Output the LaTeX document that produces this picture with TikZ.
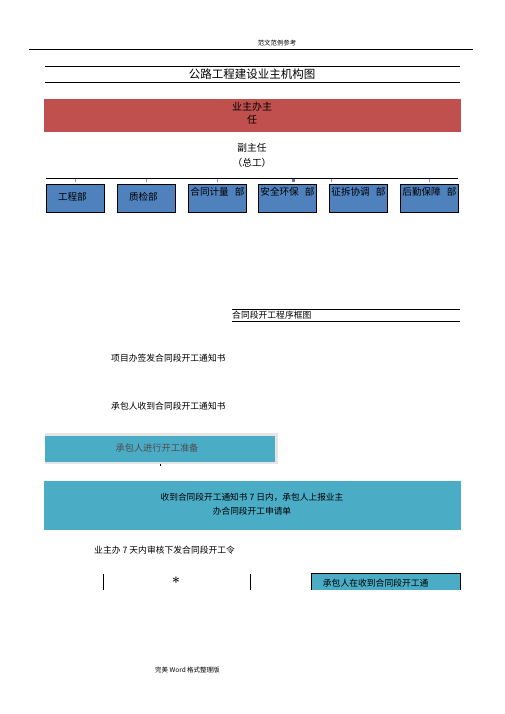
\documentclass[tikz,border=0pt]{standalone}
\usepackage{fontspec}
\newfontfamily\cjk{Noto Sans CJK SC}
\usetikzlibrary{positioning, calc}
\definecolor{ownerred}{HTML}{C0504D}
\definecolor{deptblue}{HTML}{4F81BD}
\definecolor{stepcyan}{HTML}{4BACC6}
\definecolor{tickblue}{HTML}{7F9DC4}

\begin{document}
\begin{tikzpicture}[x=1pt, y=-1pt, font=\cjk,
	dept/.style={draw, fill=deptblue, line width=0.8pt, minimum width=58pt, minimum height=28pt, inner sep=0pt, anchor=north west},
	depttext/.style={font=\cjk\fontsize{9.6}{11}\selectfont, inner sep=0pt},
	flowtext/.style={font=\cjk\fontsize{8.8}{14}\selectfont, inner sep=0pt, anchor=west},
	ruleline/.style={line width=0.7pt}]
	\useasboundingbox (0,0) rectangle (505,714);

	% page header and footer
	\node[font=\cjk\fontsize{6.4}{8}\selectfont] (header) at (277,43) {范文范例参考};
	\draw[ruleline] (29,49.5) -- (473,49.5);
	\node[font=\cjk\fontsize{6.5}{8}\selectfont, anchor=west, inner sep=0pt] (footer) at (155,670) {完美 Word 格式整理版};

	% title
	\draw[ruleline] (45,66) -- (460,66);
	\draw[ruleline] (45,82.3) -- (460,82.3);
	\node[font=\cjk\fontsize{11.5}{13}\selectfont] (title) at (252,74) {公路工程建设业主机构图};

	% owner office
	\node[fill=ownerred, minimum width=417pt, minimum height=32.7pt, inner sep=0pt, anchor=north west] (owner) at (44,99) {};
	\node[font=\cjk\fontsize{10}{13}\selectfont, align=center] (ownertext) at (252,113.5) {业主办主\\任};
	\node[font=\cjk\fontsize{9.7}{15}\selectfont, align=center] (deputy) at (252,155.5) {副主任\\（总工）};

	% departments
	\draw[ruleline] (46,178) coordinate (busL) -- (458,178) coordinate (busR);
	\node[dept] (eng) at (46,184.3) {};
	\node[dept] (qual) at (117,184.3) {};
	\node[dept] (cont) at (188,184.3) {};
	\node[dept] (safe) at (258,184.3) {};
	\node[dept] (land) at (329,184.3) {};
	\node[dept] (logi) at (400,184.3) {};
	\node[depttext] at ($(eng.center) + (-3,-1.5)$) {工程部};
	\node[depttext] at ($(qual.center) + (-3,-1.5)$) {质检部};
	\node[depttext] at ($(cont.north) + (0,7.5)$) {合同计量\hspace{6pt}部};
	\node[depttext] at ($(safe.north) + (0,7.5)$) {安全环保\hspace{6pt}部};
	\node[depttext] at ($(land.north) + (0,7.5)$) {征拆协调\hspace{6pt}部};
	\node[depttext] at ($(logi.north) + (0,7.5)$) {后勤保障\hspace{6pt}部};
	\foreach \tx in {75,146,217,331,429}
		\draw[tickblue, line width=0.5pt] (\tx,179.5) -- (\tx,182.5);
	\fill[tickblue!80!black] (292,179.5) rectangle (294.5,182);

	% commencement procedure
	\draw[ruleline] (231.7,309.3) -- (460,309.3);
	\draw[ruleline] (231.7,321.7) -- (460,321.7);
	\node[font=\cjk\fontsize{8.8}{10}\selectfont, anchor=west, inner sep=0pt] (proctitle) at (232,315.5) {合同段开工程序框图};

	\node[flowtext] (issue) at (111,357.7) {项目办签发合同段开工通知书};
	\node[flowtext] (receive) at (111,406) {承包人收到合同段开工通知书};

	\fill[gray!20] (45,433) rectangle (278,464);
	\node[fill=stepcyan, minimum width=230pt, minimum height=26pt, inner sep=0pt, anchor=north west] (prepare) at (45,435.5) {};
	\node[font=\cjk\fontsize{9.2}{11}\selectfont, text=black!70] (preparetext) at (157,448) {承包人进行开工准备};
	\draw[line width=0.6pt] (160,463.5) -- (160,466);

	\node[fill=stepcyan, minimum width=417pt, minimum height=49pt, inner sep=0pt, anchor=north west] (apply) at (44,481) {};
	\node[font=\cjk\fontsize{8.7}{14}\selectfont, align=center] (applytext) at (252,503.7) {收到合同段开工通知书 7 日内，承包人上报业主\\办合同段开工申请单};

	\node[flowtext] (order) at (94,550) {业主办 7 天内审核下发合同段开工令};

	\draw[line width=0.8pt] (103.3,574) -- (103.3,590);
	\draw[line width=0.8pt] (250.7,574) -- (250.7,590);
	\node[font=\normalfont\bfseries\fontsize{14}{14}\selectfont, inner sep=0pt] (star) at (176,582.5) {*};

	\fill[stepcyan] (311.5,573.3) rectangle (460,590);
	\draw[line width=0.8pt] (311.5,590) -- (311.5,573.3) -- (460,573.3) -- (460,590);
	\node[flowtext] (notice) at (322.7,583) {承包人在收到合同段开工通};
\end{tikzpicture}
\end{document}
